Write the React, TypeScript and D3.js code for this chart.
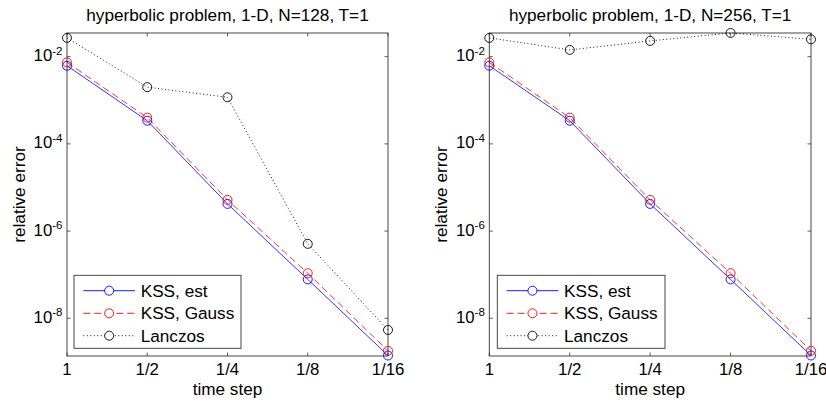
import React from "react";
import * as d3 from "d3";

const categories = ["1", "1/2", "1/4", "1/8", "1/16"];
const kssEst = [6.2e-3, 3.4e-4, 4.2e-6, 7.8e-8, 1.4e-9];
const kssGauss = [7.4e-3, 4.0e-4, 5.2e-6, 1.08e-7, 1.8e-9];
const lanczos128 = [2.7e-2, 2.0e-3, 1.17e-3, 5.1e-7, 5.4e-9];
const lanczos256 = [2.7e-2, 1.43e-2, 2.3e-2, 3.5e-2, 2.5e-2];
const yTickExps = [-8, -6, -4, -2];
const yLimits = [Math.pow(10, -8.865), Math.pow(10, -1.457)];
const titles = ["hyperbolic problem, 1-D, N=128, T=1", "hyperbolic problem, 1-D, N=256, T=1"];
const legendLabels = ["KSS, est", "KSS, Gauss", "Lanczos"];

const FONT = "Arial, 'Liberation Sans', Helvetica, sans-serif";
const FS = 17.2;
const TFS = 16.8;

const panels = [
  { left: 67, right: 388, title: titles[0], lanczos: lanczos128, legX: 74, legW: 167, ylabX: 25 },
  { left: 489.3, right: 811, title: titles[1], lanczos: lanczos256, legX: 497.3, legW: 167.7, ylabX: 446.7 },
];
const TOP = 33;
const BOTTOM = 356;

const styles = [
  { color: "#0000ff", dash: undefined as string | undefined },
  { color: "#ff0000", dash: "7,4" },
  { color: "#000000", dash: "1,2.5" },
];

function Panel({ p }: { p: (typeof panels)[number] }) {
  const x = d3.scalePoint<string>().domain(categories).range([p.left, p.right]).padding(0);
  const y = d3.scaleLog().domain(yLimits).range([BOTTOM, TOP]);
  const line = d3
    .line<number>()
    .x((_, i) => x(categories[i])!)
    .y((d) => y(d));
  const series = [kssEst, kssGauss, p.lanczos];
  const legY = 275.3;
  const legH = 73;
  const rowY = [290.7, 313.3, 335.7];
  const lx0 = p.legX + 9.3;
  const lx1 = p.legX + 61;
  const lxm = (lx0 + lx1) / 2;
  return (
    <g>
      <rect x={p.left} y={TOP} width={p.right - p.left} height={BOTTOM - TOP} fill="#fff" />
      {categories.map((c) => (
        <g key={c}>
          <line x1={x(c)} x2={x(c)} y1={BOTTOM} y2={BOTTOM - 3.5} stroke="#333" strokeWidth={0.8} />
          <line x1={x(c)} x2={x(c)} y1={TOP} y2={TOP + 3.5} stroke="#333" strokeWidth={0.8} />
          <text x={x(c)} y={375} textAnchor="middle" fontSize={TFS} fontFamily={FONT} fill="#000">
            {c}
          </text>
        </g>
      ))}
      {yTickExps.map((e) => {
        const yy = y(Math.pow(10, e));
        return (
          <g key={e}>
            <line x1={p.left} x2={p.left + 3.5} y1={yy} y2={yy} stroke="#333" strokeWidth={0.8} />
            <line x1={p.right} x2={p.right - 3.5} y1={yy} y2={yy} stroke="#333" strokeWidth={0.8} />
            <text x={p.left - 4.5} y={yy + 4.5} textAnchor="end" fontSize={TFS} fontFamily={FONT} fill="#000">
              10
              <tspan dy={-6.5} fontSize={11.5}>
                {String(e)}
              </tspan>
            </text>
          </g>
        );
      })}
      <rect x={p.left} y={TOP} width={p.right - p.left} height={BOTTOM - TOP} fill="none" stroke="#333" strokeWidth={0.9} />
      {series.map((s, si) => (
        <g key={si}>
          <path d={line(s)!} fill="none" stroke={styles[si].color} strokeWidth={si === 2 ? 0.9 : 0.8} strokeDasharray={styles[si].dash} />
          {s.map((v, i) => (
            <circle key={i} cx={x(categories[i])} cy={y(v)} r={4.5} fill="none" stroke={styles[si].color} strokeWidth={0.9} />
          ))}
        </g>
      ))}
      <text x={(p.left + p.right) / 2} y={21} textAnchor="middle" fontSize={FS} fontFamily={FONT} fill="#000">
        {p.title}
      </text>
      <text x={(p.left + p.right) / 2} y={395} textAnchor="middle" fontSize={FS} fontFamily={FONT} fill="#000">
        time step
      </text>
      <text
        transform={`translate(${p.ylabX},${(TOP + BOTTOM) / 2}) rotate(-90)`}
        textAnchor="middle"
        fontSize={FS}
        fontFamily={FONT}
        fill="#000"
      >
        relative error
      </text>
      <rect x={p.legX} y={legY} width={p.legW} height={legH} fill="#fff" stroke="#333" strokeWidth={0.9} />
      {legendLabels.map((lab, i) => (
        <g key={lab}>
          <line x1={lx0} x2={lx1} y1={rowY[i]} y2={rowY[i]} stroke={styles[i].color} strokeWidth={0.9} strokeDasharray={styles[i].dash} />
          <circle cx={lxm} cy={rowY[i]} r={4.5} fill="#fff" stroke={styles[i].color} strokeWidth={0.9} />
          <text x={p.legX + 66.7} y={rowY[i] + 6} fontSize={FS} fontFamily={FONT} fill="#000">
            {lab}
          </text>
        </g>
      ))}
    </g>
  );
}

export default function App() {
  return (
    <svg width={826} height={404} style={{ position: "absolute", left: 0, top: 0, background: "#fff" }}>
      <rect width={826} height={404} fill="#fff" />
      {panels.map((p, i) => (
        <Panel key={i} p={p} />
      ))}
    </svg>
  );
}
